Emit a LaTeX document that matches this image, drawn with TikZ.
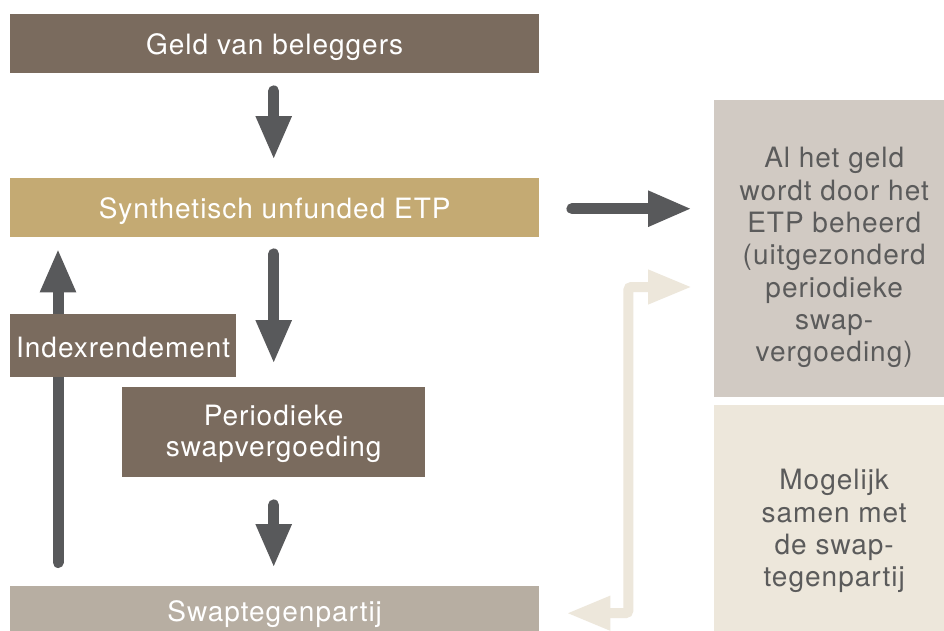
\documentclass[tikz,border=0pt]{standalone}
\usepackage{fontspec}
\setmainfont{TeX Gyre Heros}[LetterSpace=3.5]
\usetikzlibrary{arrows.meta,calc,backgrounds}
\definecolor{brownbox}{HTML}{7A6B5E}
\definecolor{goldbox}{HTML}{C4AA73}
\definecolor{taupebox}{HTML}{B7AEA2}
\definecolor{greybox}{HTML}{D1CAC3}
\definecolor{beigebox}{HTML}{EDE7DB}
\definecolor{arrowgrey}{HTML}{58595B}
\definecolor{textgrey}{HTML}{5B5B5B}
\tikzset{
  box/.style={fill=#1, draw=none, inner sep=0pt, anchor=north west},
  boxtext/.style={text=white, font=\fontsize{28}{31}\selectfont, align=center, inner sep=0pt},
  sidetext/.style={text=textgrey, font=\fontsize{28}{32.3}\selectfont, align=center, inner sep=0pt},
  darkarrow/.style={draw=arrowgrey, line width=11pt, line cap=round,
    -{Triangle[length=44pt,width=33pt]}},
  lightarrow/.style={draw=beigebox, line width=10pt, rounded corners=3pt,
    {Triangle[length=44pt,width=32pt]}-{Triangle[length=44pt,width=32pt]}}
}
\begin{document}
\begin{tikzpicture}[x=1pt,y=-1pt]
\useasboundingbox (0,0) rectangle (944,630);

% left column
\node[box=brownbox, minimum width=529pt, minimum height=59pt,
  label={[boxtext, yshift=-3pt]center:Geld van beleggers}] (geld) at (10,14) {};
\node[box=goldbox, minimum width=529pt, minimum height=59pt,
  label={[boxtext, yshift=-3pt]center:Synthetisch unfunded ETP}] (synth) at (10,178) {};
\node[box=brownbox, minimum width=226pt, minimum height=63pt,
  label={[boxtext, yshift=-2pt]center:Indexrendement}] (index) at (10,314) {};
\node[box=brownbox, minimum width=303pt, minimum height=90pt,
  label={[boxtext, yshift=-2pt]center:Periodieke\\swapvergoeding}] (period) at (122,387) {};
\node[box=taupebox, minimum width=529pt, minimum height=54pt,
  label={[boxtext, yshift=-1pt]center:Swaptegenpartij}] (swap) at (10,586) {};

% right column
\node[box=greybox, minimum width=240pt, minimum height=297pt,
  label={[sidetext, yshift=-9pt]center:Al het geld\\wordt door het\\ETP beheerd\\(uitgezonderd\\periodieke\\swap-\\vergoeding)}] (beheer) at (714,100) {};
\node[box=beigebox, minimum width=240pt, minimum height=240pt,
  label={[sidetext, yshift=-6pt]center:Mogelijk\\samen met\\de swap-\\tegenpartij}] (samen) at (714,405) {};

% connectors, kept behind the boxes
\begin{scope}[on background layer]
  \fill[white] (0,0) rectangle (944,630);
  \draw[darkarrow, shorten <=17.5pt, shorten >=18pt] ([xshift=-1pt]geld.south) -- ([xshift=-1pt]synth.north);
  \draw[darkarrow, shorten <=16.5pt, shorten >=23pt] (period.north |- synth.south) -- (period.north);
  \draw[darkarrow, shorten <=27.5pt, shorten >=18pt] (period.south) -- (period.south |- swap.north);
  \draw[darkarrow, shorten <=23.5pt, shorten >=11pt] ($(swap.north west)+(48,0)$) -- ($(synth.south west)+(48,0)$);
  \draw[darkarrow, shorten <=32.5pt, shorten >=22pt] ([yshift=-1pt]synth.east) -- ([yshift=-1pt]synth.east -| beheer.west);
  \draw[lightarrow, shorten <=27pt, shorten >=22pt] (swap.east) -- ++(89,0) |- ($(beheer.north west)+(0,187)$);
\end{scope}
\end{tikzpicture}
\end{document}
